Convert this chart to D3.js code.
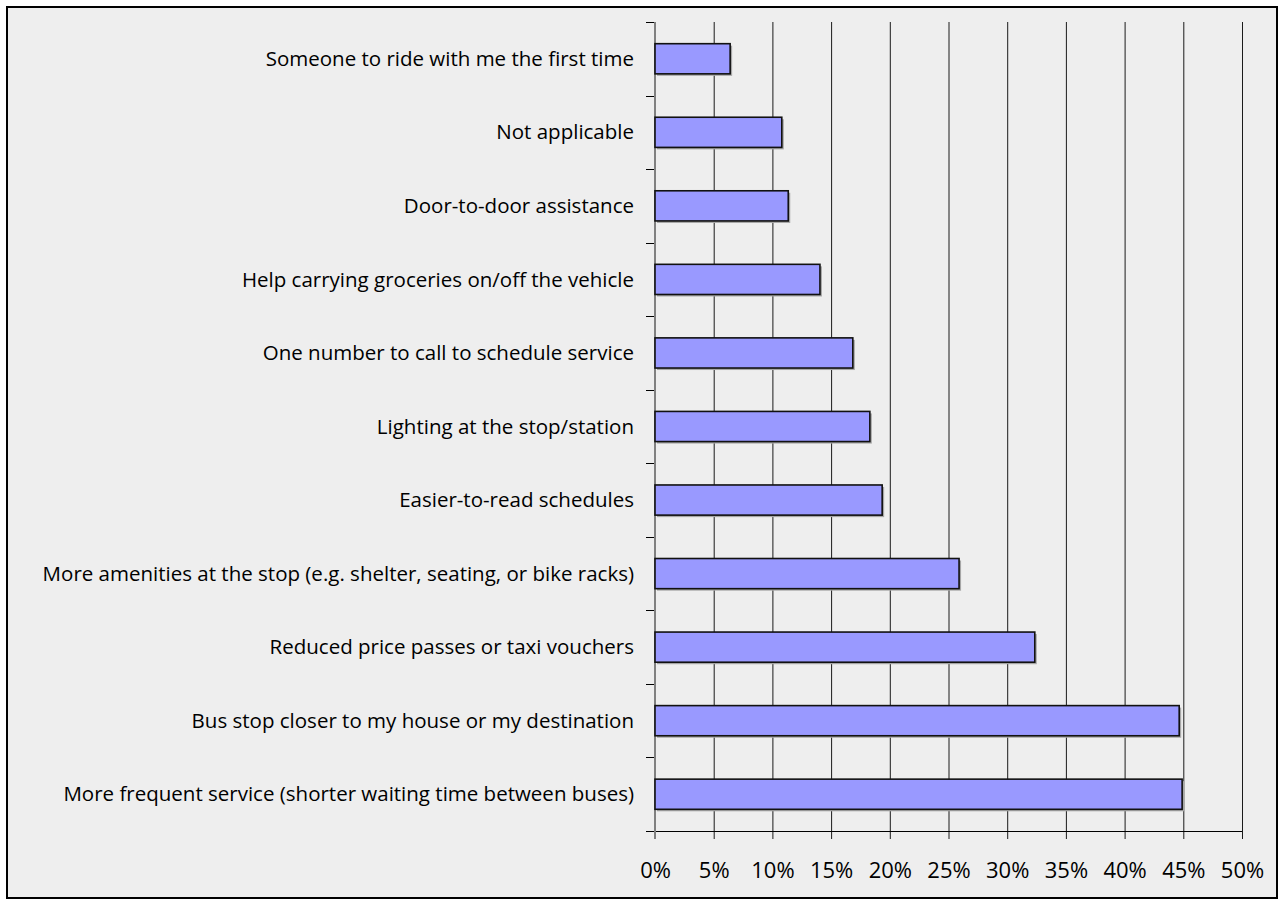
<!DOCTYPE html>
<html>
<head>
<meta charset="utf-8">
<script src="https://cdn.jsdelivr.net/npm/d3@7"></script>
<style>
  body { margin: 0; background: #fff; }
  svg { display: block; }
  text { font-family: "Open Sans", sans-serif; fill: #000; }
</style>
</head>
<body>
<div id="chart"></div>
<script>
//data
var categories = [
    'Someone to ride with me the first time',
    'Not applicable',
    'Door-to-door assistance',
    'Help carrying groceries on/off the vehicle',
    'One number to call to schedule service',
    'Lighting at the stop/station',
    'Easier-to-read schedules',
    'More amenities at the stop (e.g. shelter, seating, or bike racks)',
    'Reduced price passes or taxi vouchers',
    'Bus stop closer to my house or my destination',
    'More frequent service (shorter waiting time between buses)'
];
var values = [6.4, 10.8, 11.35, 14.05, 16.85, 18.3, 19.35, 25.9, 32.35, 44.65, 44.9];
var xTicks = [0, 5, 10, 15, 20, 25, 30, 35, 40, 45, 50];

//sizes
var outerW = 1284,
    outerH = 905,
    margin = {top: 22, right: 42, bottom: 74, left: 655},
    w = outerW - margin.left - margin.right,
    h = outerH - margin.top - margin.bottom;

var svg = d3.select('#chart').append('svg')
    .attr('width', outerW)
    .attr('height', outerH);

//chart frame
svg.append('rect')
    .attr('x', 7)
    .attr('y', 7)
    .attr('width', outerW - 14)
    .attr('height', outerH - 14)
    .attr('fill', '#eeeeee')
    .attr('stroke', '#000')
    .attr('stroke-width', 2);

var g = svg.append('g')
    .attr('transform', 'translate(' + margin.left + ', ' + margin.top + ')');

//scales
var xScale = d3.scaleLinear()
    .domain([0, 50])
    .range([0, w]);

var yScale = d3.scaleBand()
    .domain(categories)
    .range([0, h])
    .paddingInner(0.59)
    .paddingOuter(0.295);

//gridlines + x ticks
var xAxis = d3.axisBottom(xScale)
    .tickValues(xTicks)
    .tickSize(8)
    .tickPadding(23)
    .tickFormat(function(d) { return d + '%'; });

var xAxisG = g.append('g')
    .attr('class', 'x-axis')
    .attr('transform', 'translate(0, ' + h + ')')
    .call(xAxis);

xAxisG.select('.domain').remove();
xAxisG.selectAll('.tick line')
    .attr('y1', -h)
    .attr('stroke', '#1a1a1a');
xAxisG.selectAll('.tick text')
    .style('font-size', '22px');

//bottom axis line
g.append('line')
    .attr('x1', -9)
    .attr('x2', w)
    .attr('y1', h + 0.5)
    .attr('y2', h + 0.5)
    .attr('stroke', '#000');

//category ticks at band edges
var step = yScale.step();
var edges = d3.range(categories.length + 1).map(function(i) { return i * step; });

g.selectAll('.cat-tick')
    .data(edges)
    .enter().append('line')
    .attr('class', 'cat-tick')
    .attr('x1', -9)
    .attr('x2', 0)
    .attr('y1', function(d) { return Math.round(d) + 0.5; })
    .attr('y2', function(d) { return Math.round(d) + 0.5; })
    .attr('stroke', '#000');

//y axis line
g.append('line')
    .attr('x1', 0)
    .attr('x2', 0)
    .attr('y1', 0)
    .attr('y2', h + 8)
    .attr('stroke', '#808080')
    .attr('stroke-width', 2);

//bars
var bars = g.selectAll('.bar')
    .data(categories)
    .enter().append('g')
    .attr('class', 'bar');

//shadow
bars.append('rect')
    .attr('x', 2)
    .attr('y', function(d) { return yScale(d) + 2; })
    .attr('width', function(d, i) { return xScale(values[i]); })
    .attr('height', yScale.bandwidth())
    .attr('fill', '#a6a6a6');

bars.append('rect')
    .attr('x', 0)
    .attr('y', function(d) { return yScale(d); })
    .attr('width', function(d, i) { return xScale(values[i]); })
    .attr('height', yScale.bandwidth())
    .attr('fill', '#9999ff')
    .attr('stroke', '#111')
    .attr('stroke-width', 1.6);

//labels
g.selectAll('.cat-label')
    .data(categories)
    .enter().append('text')
    .attr('class', 'cat-label')
    .attr('x', -21)
    .attr('y', function(d) { return yScale(d) + yScale.bandwidth() / 2; })
    .attr('dy', '0.35em')
    .attr('text-anchor', 'end')
    .style('font-size', '20.5px')
    .text(function(d) { return d; });
</script>
</body>
</html>
